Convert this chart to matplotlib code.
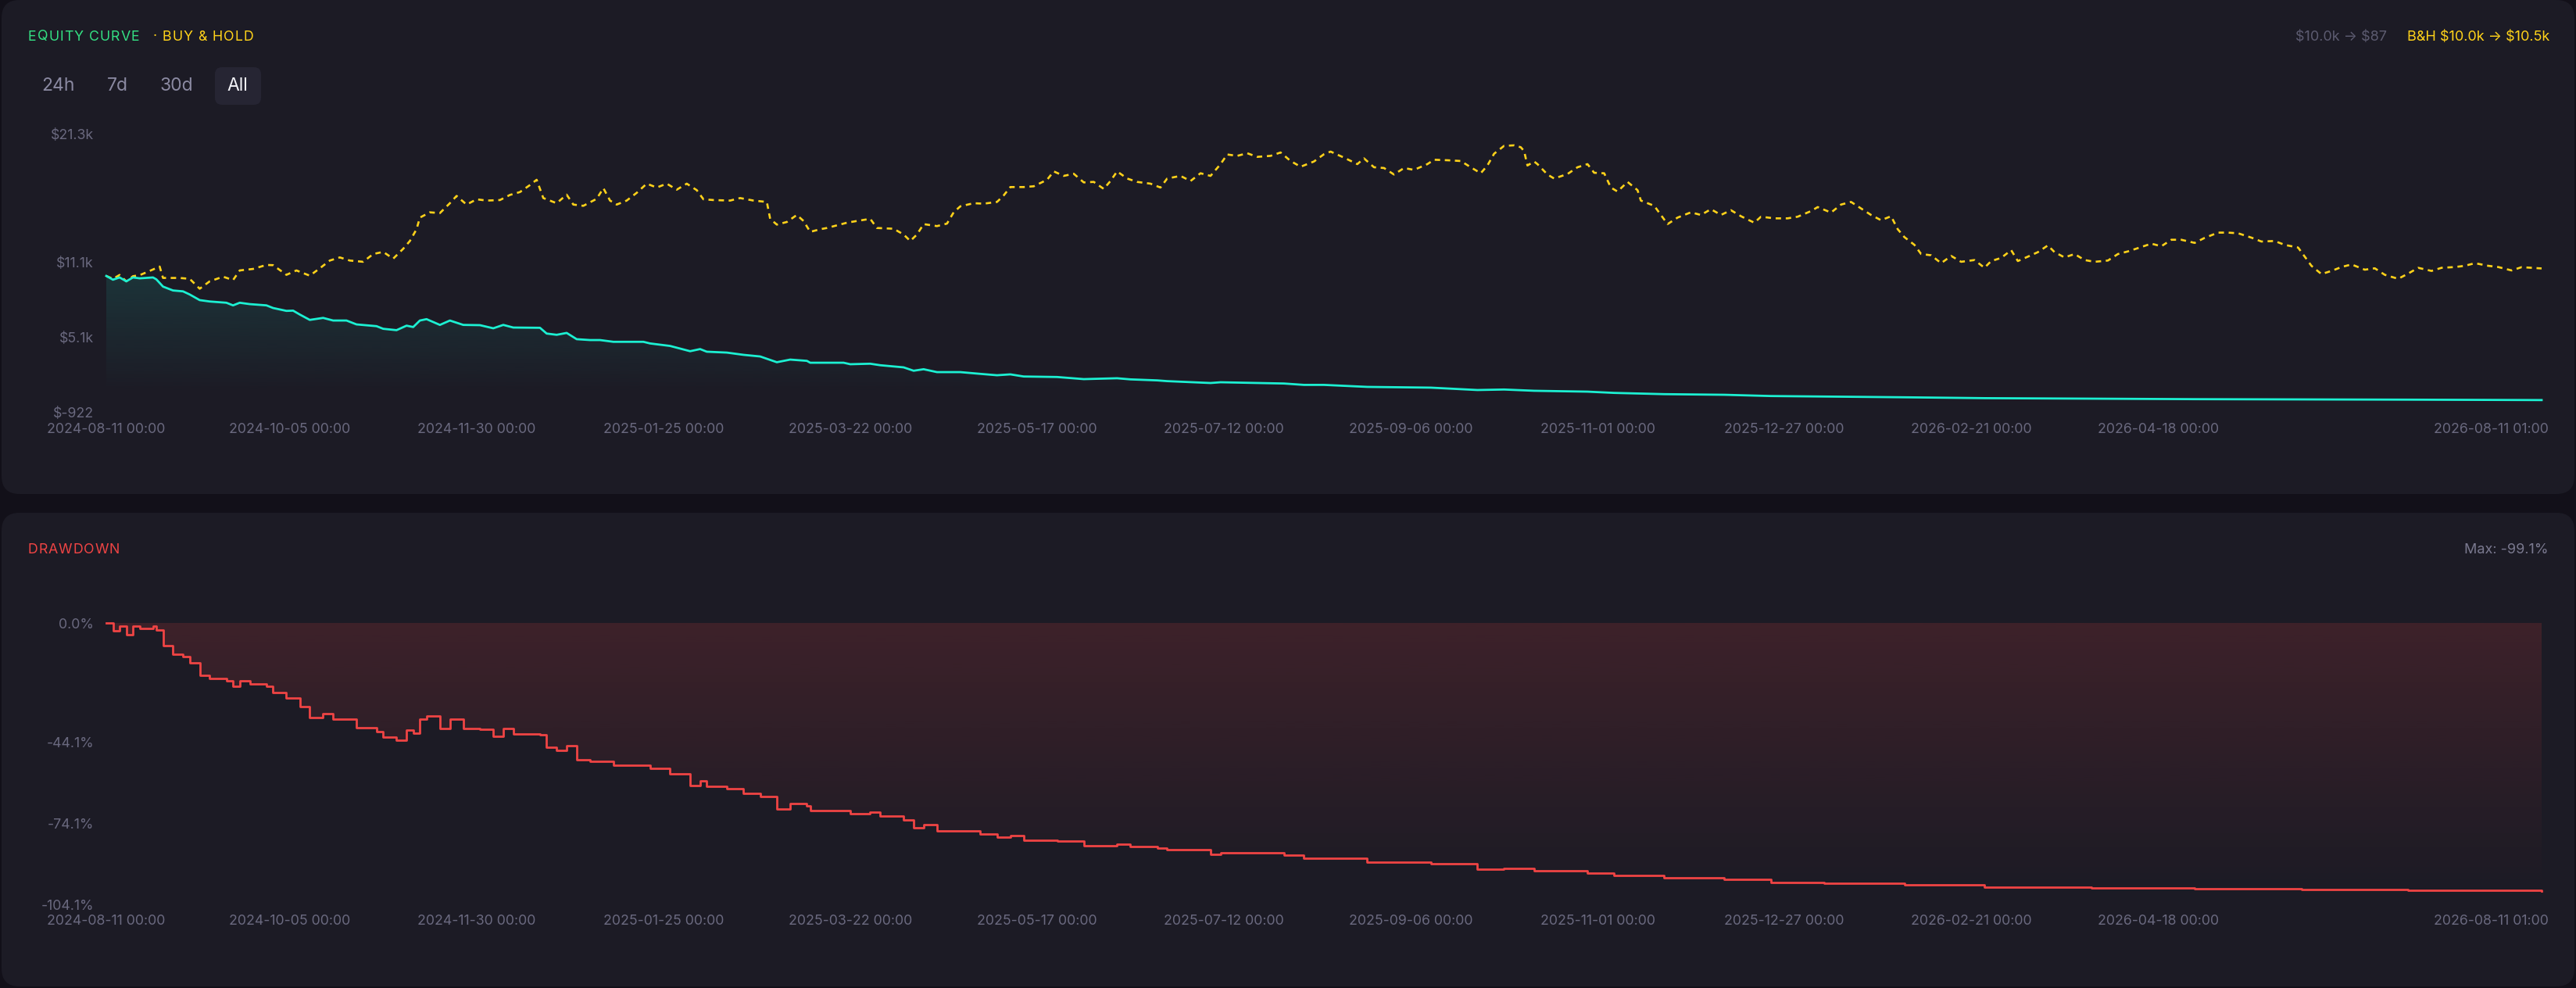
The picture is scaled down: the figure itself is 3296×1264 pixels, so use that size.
import numpy as np
import pandas as pd
import matplotlib

matplotlib.use("Agg")
import matplotlib.pyplot as plt
from matplotlib.font_manager import FontProperties
from matplotlib.patches import FancyBboxPatch, PathPatch
from matplotlib.textpath import TextToPath
from matplotlib.transforms import ScaledTranslation

W, H = 3296, 1264
DPI = 100

plt.rcParams["font.family"] = ["Inter", "DejaVu Sans"]
plt.rcParams["lines.scale_dashes"] = False
plt.rcParams["text.parse_math"] = False

# ---- data ----
start_date = "2024-08-11"

bh_days = [0, 2, 4, 6, 8, 10, 13, 16, 17, 22, 25, 28, 31, 35, 38, 40, 44, 48, 50, 54,
           57, 61, 64, 67, 70, 73, 77, 80, 83, 86, 89, 91, 93, 94, 97, 100, 103, 105, 108, 111,
           114, 118, 121, 124, 127, 129, 131, 135, 138, 140, 143, 147, 149, 151, 153, 156, 159, 162, 165, 168,
           171, 174, 177, 179, 182, 187, 190, 194, 198, 199, 201, 204, 207, 209, 211, 214, 216, 219, 222, 225,
           229, 231, 236, 239, 241, 243, 245, 249, 252, 254, 256, 260, 263, 267, 269, 271, 275, 278, 282, 284,
           287, 290, 293, 296, 299, 301, 303, 306, 309, 313, 316, 318, 322, 325, 328, 331, 334, 336, 339, 342,
           345, 349, 352, 355, 358, 362, 365, 367, 371, 375, 377, 380, 383, 386, 389, 392, 396, 398, 402, 406,
           409, 412, 414, 416, 419, 422, 424, 425, 426, 428, 429, 432, 434, 438, 441, 444, 446, 449, 451, 453,
           456, 459, 460, 464, 466, 468, 471, 475, 478, 481, 484, 487, 490, 494, 496, 500, 504, 507, 511, 513,
           517, 520, 523, 526, 529, 532, 535, 537, 539, 542, 544, 547, 550, 553, 556, 560, 563, 565, 568, 571,
           573, 576, 579, 582, 584, 587, 590, 593, 596, 600, 603, 606, 610, 613, 616, 619, 622, 626, 629, 633,
           636, 639, 643, 646, 650, 653, 657, 659, 661, 664, 667, 670, 673, 677, 680, 683, 687, 690, 693, 697,
           700, 704, 707, 710, 714, 717, 721, 724, 730]
bh_values = [10000, 9770, 10080, 9570, 9980, 10060, 10400, 10750, 9840, 9840, 9770, 8980, 9570, 9940, 9670, 10440, 10560, 10880, 10860, 10090,
             10440, 10020, 10610, 11230, 11480, 11230, 11130, 11750, 11920, 11380, 12170, 12790, 13730, 14660, 15080, 15020, 15810, 16390, 15700, 16120,
             16020, 16060, 16470, 16700, 17260, 17680, 16220, 15810, 16490, 15700, 15600, 16160, 17010, 16020, 15700, 16020, 16640, 17370, 17060, 17370,
             16890, 17370, 16850, 16120, 16060, 16020, 16220, 16020, 15910, 14560, 14100, 14310, 14870, 14390, 13520, 13730, 13830, 14040, 14250, 14390,
             14560, 13830, 13770, 13310, 12790, 13310, 14140, 13980, 14180, 15080, 15560, 15810, 15770, 15910, 16430, 17100, 17100, 17160, 17680, 18350,
             17990, 18160, 17470, 17510, 16950, 17580, 18350, 17780, 17510, 17370, 17060, 17780, 17990, 17580, 18200, 17990, 18930, 19700, 19590, 19800,
             19510, 19590, 19860, 19180, 18720, 19140, 19720, 19930, 19450, 18930, 19390, 18680, 18620, 18100, 18620, 18470, 18930, 19280, 19240, 19180,
             18680, 18200, 18820, 19760, 20390, 20430, 20280, 19970, 18820, 19140, 18930, 18100, 17780, 18140, 18680, 18930, 18240, 18200, 17060, 16740,
             17510, 16850, 16020, 15600, 14870, 14140, 14660, 15080, 14870, 15330, 14870, 15250, 14770, 14250, 14730, 14600, 14600, 14730, 15180, 15500,
             15060, 15700, 15910, 15390, 14870, 14450, 14770, 13730, 13100, 12480, 11750, 11650, 11020, 11600, 11130, 11270, 10650, 11190, 11440, 12060,
             11190, 11540, 11900, 12440, 11900, 11480, 11750, 11270, 11130, 11230, 11750, 11960, 12310, 12580, 12370, 12890, 12890, 12640, 13040, 13460,
             13460, 13410, 13060, 12750, 12790, 12480, 12270, 11540, 10810, 10150, 10400, 10710, 10920, 10500, 10610, 10090, 9770, 10190, 10650, 10400,
             10650, 10710, 10810, 11020, 10810, 10710, 10440, 10700, 10600]

eq_days = [0, 2, 4, 6, 8, 10, 14, 15, 17, 20, 23, 25, 28, 31, 36, 38, 40, 43, 48, 50,
           54, 56, 58, 61, 65, 68, 72, 75, 81, 83, 87, 90, 92, 94, 96, 100, 103, 107, 112, 116,
           119, 122, 130, 132, 135, 138, 141, 145, 148, 152, 161, 163, 169, 175, 178, 180, 186, 191, 196, 201,
           205, 210, 211, 221, 223, 229, 232, 239, 242, 245, 249, 256, 262, 267, 271, 275, 285, 293, 303, 307,
           315, 318, 331, 334, 353, 359, 365, 378, 397, 411, 419, 428, 444, 452, 467, 485, 499, 515, 539, 563,
           595, 626, 658, 690, 730]
eq_values = [10000, 9700, 9880, 9570, 9880, 9810, 9880, 9730, 9150, 8840, 8770, 8520, 8070, 7960, 7860, 7650, 7860, 7750, 7650, 7440,
             7210, 7230, 6920, 6490, 6650, 6440, 6440, 6130, 5990, 5780, 5670, 6030, 5920, 6440, 6550, 6090, 6440, 6090, 6070, 5820,
             6090, 5880, 5860, 5400, 5300, 5450, 4950, 4880, 4880, 4740, 4740, 4610, 4410, 3990, 4160, 3950, 3880, 3700, 3570, 3110,
             3320, 3220, 3070, 3070, 2950, 2990, 2870, 2700, 2430, 2550, 2320, 2320, 2180, 2070, 2140, 1970, 1930, 1760, 1830, 1740,
             1660, 1600, 1450, 1510, 1410, 1300, 1300, 1140, 1080, 890, 930, 830, 760, 660, 560, 510, 410, 370, 310, 240,
             200, 160, 140, 120, 87]

tick_dates = ["2024-08-11", "2024-10-05", "2024-11-30", "2025-01-25", "2025-03-22", "2025-05-17",
              "2025-07-12", "2025-09-06", "2025-11-01", "2025-12-27", "2026-02-21", "2026-04-18", "2026-08-11"]
tick_labels = ["2024-08-11 00:00", "2024-10-05 00:00", "2024-11-30 00:00", "2025-01-25 00:00",
               "2025-03-22 00:00", "2025-05-17 00:00", "2025-07-12 00:00", "2025-09-06 00:00",
               "2025-11-01 00:00", "2025-12-27 00:00", "2026-02-21 00:00", "2026-04-18 00:00",
               "2026-08-11 01:00"]

eq_ticks = [-922, 5089, 11100, 21300]
eq_tick_labels = ["$-922", "$5.1k", "$11.1k", "$21.3k"]
dd_ticks = [0.0, -44.1, -74.1, -104.1]
dd_tick_labels = ["0.0%", "-44.1%", "-74.1%", "-104.1%"]

# ---- colours ----
PAGE = "#121019"
PANEL = "#1c1b25"
AXIS_TXT = "#6a697f"
TEAL = "#1cf0d2"
YELLOW = "#ffd21a"
GREEN = "#34e083"
RED = "#ef4444"

eq = np.array(eq_values, dtype=float)
drawdown = (eq / np.maximum.accumulate(eq) - 1.0) * 100.0
tick_pos = (pd.to_datetime(tick_dates) - pd.Timestamp(start_date)).days.to_numpy()
x_end = tick_pos[-1]

fig = plt.figure(figsize=(W / DPI, H / DPI), dpi=DPI, facecolor=PAGE)

# background panels, drawn in pixel coordinates (y grows downwards)
bg = fig.add_axes([0, 0, 1, 1], zorder=-5)
bg.set_xlim(0, W)
bg.set_ylim(H, 0)
bg.axis("off")
for top, bottom in [(0, 632), (656, 1262)]:
    bg.add_patch(FancyBboxPatch((2, top), W - 4, bottom - top,
                                boxstyle="round,pad=0,rounding_size=23",
                                facecolor=PANEL, edgecolor="none"))

_t2p = TextToPath()


def spaced_text(x, y, s, width_px, size, color):
    # caps headings are letter-spaced in the original; stretch to a target width
    fp = FontProperties(family=["Inter", "DejaVu Sans"], size=size)
    adv = [_t2p.get_text_width_height_descent(ch, fp, ismath=False)[0] * DPI / 72 for ch in s]
    track = (width_px - sum(adv)) / max(len(s) - 1, 1)
    for ch, a in zip(s, adv):
        bg.text(x, y, ch, fontproperties=fp, color=color, va="center", ha="left")
        x += a + track


def px_axes(left, top, right, bottom):
    return fig.add_axes([left / W, 1 - bottom / H, (right - left) / W, (bottom - top) / H])


def gradient_fill(ax, x, y, base, rgb, a_top, a_bottom, v_top, v_bottom, step=None):
    coll = ax.fill_between(x, y, base, step=step, facecolor="none", edgecolor="none")
    path = coll.get_paths()[0]
    coll.remove()
    patch = PathPatch(path, facecolor="none", edgecolor="none", transform=ax.transData)
    ax.add_patch(patch)
    grad = np.zeros((256, 1, 4))
    grad[..., :3] = matplotlib.colors.to_rgb(rgb)
    grad[:, 0, 3] = np.linspace(a_top, a_bottom, 256)
    im = ax.imshow(grad, extent=[x[0], x[-1], v_bottom, v_top], origin="upper",
                   aspect="auto", interpolation="bilinear", zorder=1)
    im.set_clip_path(patch)


def style_axes(ax, yticks, ylabels):
    ax.set_facecolor("none")
    for s in ax.spines.values():
        s.set_visible(False)
    ax.set_yticks(yticks, ylabels)
    ax.set_xticks(tick_pos, tick_labels)
    ax.tick_params(axis="y", length=0, pad=11.5, labelsize=12.8, labelcolor=AXIS_TXT)
    ax.tick_params(axis="x", length=0, pad=9.5, labelsize=12.8, labelcolor=AXIS_TXT)
    last = ax.get_xticklabels()[-1]
    last.set_ha("right")
    last.set_transform(last.get_transform() + ScaledTranslation(9 / DPI, 0, fig.dpi_scale_trans))
    ax.set_xlim(0, x_end)


# ---- equity curve ----
ax1 = px_axes(136, 172, 3252, 528)
gradient_fill(ax1, eq_days, eq_values, -922, TEAL, 0.12, 0.0, 10000, 600)
ax1.plot(bh_days, bh_values, color=YELLOW, lw=1.9, dashes=(5, 4.3), zorder=3, clip_on=False)
ax1.plot(eq_days, eq_values, color=TEAL, lw=2.0, zorder=4, clip_on=False)
ax1.set_ylim(-922, 21300)
style_axes(ax1, eq_ticks, eq_tick_labels)

# ---- drawdown ----
ax2 = px_axes(136, 797, 3252, 1157)
gradient_fill(ax2, eq_days, drawdown, 0, RED, 0.16, 0.0, 0, -100, step="post")
ax2.plot(eq_days, drawdown, color=RED, lw=2.0, drawstyle="steps-post", zorder=4, clip_on=False)
ax2.set_ylim(-104.1, 0)
style_axes(ax2, dd_ticks, dd_tick_labels)

# ---- header texts ----
spaced_text(36, 47, "EQUITY CURVE", 142, 12.8, GREEN)
spaced_text(196, 47, "· BUY & HOLD", 128, 12.8, YELLOW)
bg.text(3054, 47, "$10.0k → $87", color="#5c5b70", fontsize=13, va="center", ha="right")
bg.text(3262, 47, "B&H $10.0k → $10.5k", color=YELLOW, fontsize=13, va="center", ha="right")

bg.add_patch(FancyBboxPatch((275, 86), 59, 48, boxstyle="round,pad=0,rounding_size=9",
                            facecolor="#262533", edgecolor="none"))
for label, cx in zip(["24h", "7d", "30d", "All"], [74, 150, 226, 304]):
    bg.text(cx, 110, label, color="#f2f2f7" if label == "All" else "#8a89a1",
            fontsize=16.5, va="center", ha="center")

spaced_text(36, 703, "DRAWDOWN", 117, 12.8, RED)
bg.text(3261, 703, "Max: -99.1%", color="#7a798f", fontsize=13, va="center", ha="right")

fig.savefig("out.png", dpi=DPI, facecolor=PAGE)
